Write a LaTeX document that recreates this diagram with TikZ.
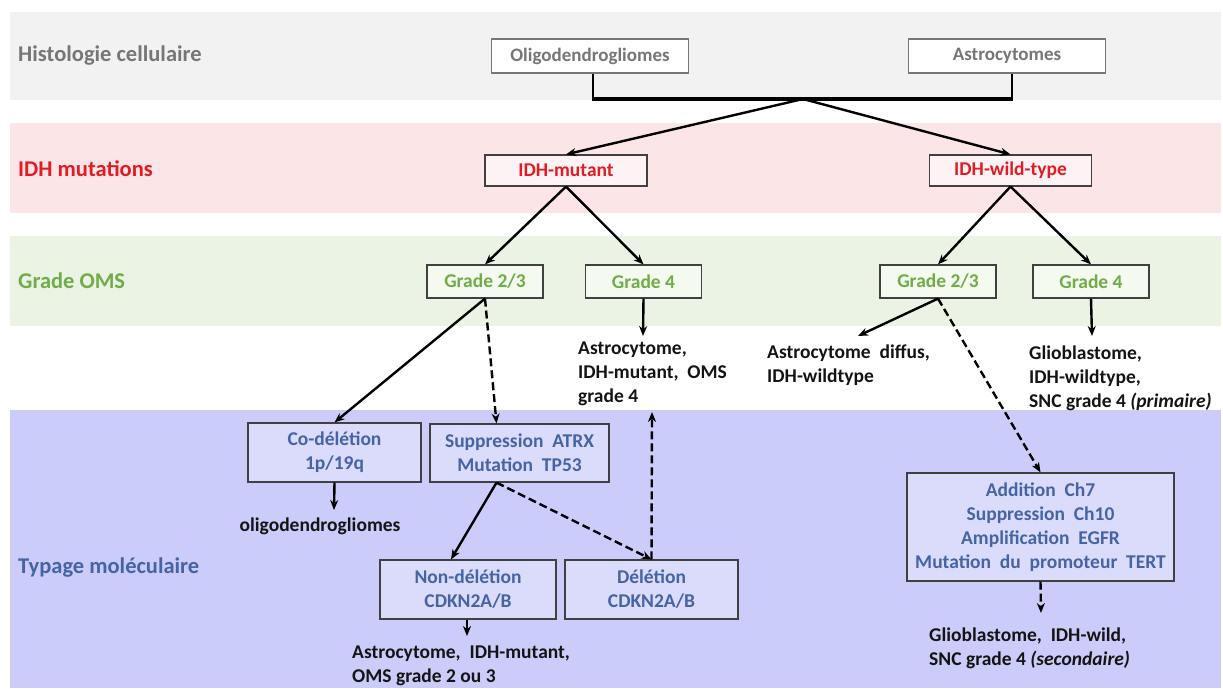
\documentclass[tikz,border=0pt]{standalone}
\usepackage{fontspec}
\setmainfont{Carlito}
\usetikzlibrary{arrows.meta,calc}
\definecolor{bandgrey}{RGB}{242,242,242}
\definecolor{bandpink}{RGB}{252,229,231}
\definecolor{bandgreen}{RGB}{234,243,228}
\definecolor{bandblue}{RGB}{204,204,250}
\definecolor{boxblue}{RGB}{219,219,252}
\definecolor{boxgreen}{RGB}{244,250,240}
\definecolor{boxpink}{RGB}{254,243,244}
\definecolor{txtgrey}{RGB}{118,118,118}
\definecolor{txtred}{RGB}{226,28,36}
\definecolor{txtgreen}{RGB}{112,173,71}
\definecolor{txtblue}{RGB}{68,100,164}
\definecolor{txtblack}{RGB}{20,20,20}
\definecolor{boxborder}{RGB}{64,64,64}
\begin{document}
\begin{tikzpicture}[x=1pt,y=-1pt,
  bodyfont/.style={font=\fontsize{19.5}{24}\selectfont\bfseries},
  lab/.style={anchor=west, inner sep=0pt, font=\fontsize{22.5}{26}\selectfont\bfseries},
  box/.style={draw=boxborder, line width=1.2pt, inner sep=0pt, align=center, bodyfont},
  topbox/.style={box, draw=txtgrey, fill=white, text=txtgrey, minimum width=197pt, minimum height=34pt, font=\fontsize{19}{24}\selectfont\bfseries},
  idhbox/.style={box, fill=boxpink, text=txtred, minimum width=162pt, minimum height=31pt},
  gradebox/.style={box, fill=boxgreen, text=txtgreen, minimum width=116pt, minimum height=33pt},
  molbox/.style={box, fill=boxblue, text=txtblue},
  res/.style={anchor=west, inner sep=0pt, align=left, text=txtblack, bodyfont},
  arr/.style={-{Stealth[length=10pt,width=8pt]}, line width=2.4pt, black},
  darr/.style={arr, dash pattern=on 8pt off 4pt}
]
\useasboundingbox (0,0) rectangle (1223,688);
% bands
\fill[bandgrey] (10,12) rectangle (1221,100);
\fill[bandpink] (10,123) rectangle (1221,213);
\fill[bandgreen] (10,236) rectangle (1221,326);
\fill[bandblue] (10,410) rectangle (1221,688);
% row labels
\node[lab, text=txtgrey] (lhist) at (18,56) {Histologie cellulaire};
\node[lab, text=txtred] (lidh) at (18,169) {IDH mutations};
\node[lab, text=txtgreen] (lgrade) at (18,281) {Grade OMS};
\node[lab, text=txtblue] (ltyp) at (18,568) {Typage moléculaire};
% top boxes
\node[topbox] (oligo) at (590,56) {Oligodendrogliomes};
\node[topbox] (astro) at (1007,56) {Astrocytomes};
% IDH
\node[idhbox] (idhm) at (566,170.5) {IDH-mutant};
\node[idhbox] (idhw) at (1010.5,170.5) {IDH-wild-type};
% grades
\node[gradebox] (g23l) at (485,281.5) {Grade 2/3};
\node[gradebox] (g4l) at (643.5,281.5) {Grade 4};
\node[gradebox] (g23r) at (938,281.5) {Grade 2/3};
\node[gradebox] (g4r) at (1091,281.5) {Grade 4};
% molecular boxes
\node[molbox, minimum width=173pt, minimum height=59pt] (codel) at (334.5,452.5) {Co-délétion\\1p/19q};
\node[molbox, minimum width=179pt, minimum height=58pt] (supp) at (519.5,453) {Suppression\ \ ATRX\\Mutation\ \ TP53};
\node[molbox, minimum width=176pt, minimum height=59pt] (nondel) at (468,589.5) {Non-délétion\\CDKN2A/B};
\node[molbox, minimum width=173pt, minimum height=59pt] (del) at (651.5,589.5) {Délétion\\CDKN2A/B};
\node[molbox, minimum width=267pt, minimum height=108pt] (add) at (1040.5,527) {Addition\ \ Ch7\\Suppression\ \ Ch10\\Amplification\ \ EGFR\\Mutation\ \ du\ \ promoteur\ \ TERT};
% result texts
\node[res] (tam4) at (578,374) {Astrocytome,\\IDH-mutant,\ \ OMS\\grade 4};
\node[res] (tdif) at (767,365.5) {Astrocytome\ \ diffus,\\IDH-wildtype};
\node[res] (tgbm1) at (1029,378) {Glioblastome,\\IDH-wildtype,\\SNC grade 4 \textit{(primaire)}};
\node[res, anchor=center] (toligo) at (320,526) {oligodendrogliomes};
\node[res] (tam23) at (352,666) {Astrocytome,\ \ IDH-mutant,\\OMS grade 2 ou 3};
\node[res] (tgbm2) at (929,648) {Glioblastome,\ \ IDH-wild,\\SNC grade 4 \textit{(secondaire)}};
% coordinates
\coordinate (jn) at (803,99);
\coordinate (e1) at (643,336);
\coordinate (e2) at (858,336);
\coordinate (e3) at (1092,336);
\coordinate (e4) at (334,510);
\coordinate (e5) at (652,412);
\coordinate (e6) at (467,636);
\coordinate (e7) at (1041,613);
% bracket
\draw[line width=2pt] ([xshift=3pt]oligo.south) -- ([xshift=3pt]oligo.south |- jn);
\draw[line width=2pt] ([xshift=5pt]astro.south) -- ([xshift=5pt]astro.south |- jn);
\draw[line width=3.2pt] ([xshift=2pt]oligo.south |- jn) -- ([xshift=6pt]astro.south |- jn);
% arrows
\draw[arr] (jn) -- (idhm.north);
\draw[arr] (jn) -- (idhw.north);
\draw[arr] (idhm.south) -- (g23l.north);
\draw[arr] (idhm.south) -- (g4l.north);
\draw[arr] (idhw.south) -- (g23r.north);
\draw[arr] (idhw.south) -- (g4r.north);
\draw[arr] (g4l.south) -- (e1);
\draw[arr] (g23r.south) -- (e2);
\draw[darr] (g23r.south) -- (add.north);
\draw[arr] (g4r.south) -- (e3);
\draw[arr] (g23l.south) -- (codel.north);
\draw[darr] (g23l.south) -- ([xshift=-23pt]supp.north);
\draw[arr] (codel.south) -- (e4);
\draw[arr] ([xshift=-23pt]supp.south) -- ([xshift=-17pt]nondel.north);
\draw[darr] ([xshift=-23pt]supp.south) -- (del.north);
\draw[darr] (del.north) -- (e5);
\draw[arr] ([xshift=-1pt]nondel.south) -- (e6);
\draw[darr] (add.south) -- (e7);
\end{tikzpicture}
\end{document}
